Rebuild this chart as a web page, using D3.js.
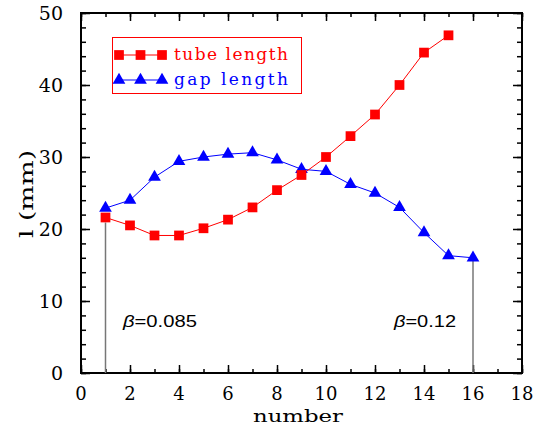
<!DOCTYPE html>
<html>
<head>
<meta charset="utf-8">
<script src="https://cdn.jsdelivr.net/npm/d3@7"></script>
<style>
	body { margin: 0; background: #fff; }
	svg { display: block; }
</style>
</head>
<body>
<svg id="chart" width="539" height="425"></svg>
<script>

// values
var numbers		= [1, 2, 3, 4, 5, 6, 7, 8, 9, 10, 11, 12, 13, 14, 15, 16];
var tubeLength	= [21.6, 20.5, 19.1, 19.1, 20.1, 21.3, 23.0, 25.4, 27.5, 30.0, 32.9, 35.9, 40.0, 44.5, 46.9];
var gapLength	= [22.9, 24.0, 27.2, 29.4, 30.0, 30.4, 30.6, 29.6, 28.3, 28.0, 26.2, 25.0, 23.0, 19.5, 16.3, 16.0];

var xTicks		= [0, 2, 4, 6, 8, 10, 12, 14, 16, 18];
var yTicks		= [0, 10, 20, 30, 40, 50];

var seriesNames	= ["tube length", "gap length"];
var betaMarks	= [
	{ number: 1, top: 20.9, label: "0.085" },
	{ number: 16, top: 16.0, label: "0.12" }
];

var RED		= "#ff0000";
var BLUE	= "#0000ff";
var SERIF	= "'DejaVu Serif', 'Liberation Serif', serif";

var svg = d3.select("#chart");

var plotLeft = 81, plotRight = 522, plotTop = 13, plotBottom = 373;

var x = d3.scaleLinear().domain([0, 18]).range([plotLeft, plotRight]);
var y = d3.scaleLinear().domain([0, 50]).range([plotBottom, plotTop]);

// ticks point inward on all four sides
function ticks(axis, scale, values, len, g) {
	g.call(axis(scale).tickValues(values).tickSize(-len).tickSizeOuter(0).tickFormat(""));
	g.select(".domain").remove();
	g.selectAll("line").attr("stroke", "#000").attr("stroke-width", 1.5);
}

var xMinor = d3.range(0, 19);
var yMinor = d3.range(0, 51, 2);

ticks(d3.axisBottom, x, xMinor, 4, svg.append("g").attr("transform", "translate(0," + plotBottom + ")"));
ticks(d3.axisBottom, x, xTicks, 8, svg.append("g").attr("transform", "translate(0," + plotBottom + ")"));
ticks(d3.axisTop, x, xMinor, 4, svg.append("g").attr("transform", "translate(0," + plotTop + ")"));
ticks(d3.axisTop, x, xTicks, 8, svg.append("g").attr("transform", "translate(0," + plotTop + ")"));
ticks(d3.axisLeft, y, yMinor, 5, svg.append("g").attr("transform", "translate(" + plotLeft + ",0)"));
ticks(d3.axisLeft, y, yTicks, 9, svg.append("g").attr("transform", "translate(" + plotLeft + ",0)"));
ticks(d3.axisRight, y, yMinor, 5, svg.append("g").attr("transform", "translate(" + plotRight + ",0)"));
ticks(d3.axisRight, y, yTicks, 9, svg.append("g").attr("transform", "translate(" + plotRight + ",0)"));

svg.append("rect")
	.attr("x", plotLeft).attr("y", plotTop)
	.attr("width", plotRight - plotLeft).attr("height", plotBottom - plotTop)
	.attr("fill", "none").attr("stroke", "#000").attr("stroke-width", 2);

// tick labels
svg.selectAll(".xlab").data(xTicks).enter().append("text")
	.attr("x", function(d) { return x(d); })
	.attr("y", 400)
	.attr("text-anchor", "middle")
	.attr("font-family", SERIF).attr("font-size", 18)
	.text(function(d) { return d; });

svg.selectAll(".ylab").data(yTicks).enter().append("text")
	.attr("x", 63)
	.attr("y", function(d) { return y(d) + 7; })
	.attr("text-anchor", "end")
	.attr("font-family", SERIF).attr("font-size", 19)
	.text(function(d) { return d; });

svg.append("text")
	.attr("x", 298).attr("y", 422)
	.attr("text-anchor", "middle")
	.attr("font-family", SERIF).attr("font-size", 17)
	.attr("textLength", 90).attr("lengthAdjust", "spacingAndGlyphs")
	.text("number");

svg.append("text")
	.attr("transform", "translate(33,194) rotate(-90)")
	.attr("text-anchor", "middle")
	.attr("font-family", SERIF).attr("font-size", 19)
	.attr("textLength", 88).attr("lengthAdjust", "spacingAndGlyphs")
	.text("l (mm)");

// beta markers
betaMarks.forEach(function(b) {
	svg.append("line")
		.attr("x1", x(b.number)).attr("x2", x(b.number))
		.attr("y1", y(0)).attr("y2", y(b.top))
		.attr("stroke", "#777").attr("stroke-width", 1.5);
});

var betaText = svg.selectAll(".beta").data(betaMarks).enter().append("text")
	.attr("x", function(d, i) { return i == 0 ? 123 : 394; })
	.attr("y", 327)
	.attr("font-family", "'Liberation Sans', Arial, sans-serif").attr("font-size", 17)
	.attr("textLength", function(d, i) { return i == 0 ? 74 : 62; })
	.attr("lengthAdjust", "spacingAndGlyphs");
betaText.append("tspan").attr("font-style", "italic").text("\u03b2");
betaText.append("tspan").text(function(d) { return "=" + d.label; });

// series
var tubePts	= tubeLength.map(function(v, i) { return [numbers[i], v]; });
var gapPts	= gapLength.map(function(v, i) { return [numbers[i], v]; });

var line = d3.line()
	.x(function(d) { return x(d[0]); })
	.y(function(d) { return y(d[1]); });

svg.append("path").datum(gapPts)
	.attr("d", line).attr("fill", "none").attr("stroke", BLUE).attr("stroke-width", 1);
svg.append("path").datum(tubePts)
	.attr("d", line).attr("fill", "none").attr("stroke", RED).attr("stroke-width", 1);

var square		= d3.symbol().type(d3.symbolSquare).size(95);
var triangle	= d3.symbol().type(d3.symbolTriangle).size(70);

svg.selectAll(".gap").data(gapPts).enter().append("path")
	.attr("d", triangle)
	.attr("transform", function(d) { return "translate(" + x(d[0]) + "," + y(d[1]) + ")"; })
	.attr("fill", BLUE);

svg.selectAll(".tube").data(tubePts).enter().append("path")
	.attr("d", square)
	.attr("transform", function(d) { return "translate(" + x(d[0]) + "," + y(d[1]) + ")"; })
	.attr("fill", RED);

// legend
svg.append("rect")
	.attr("x", 112.5).attr("y", 37.5).attr("width", 189).attr("height", 56)
	.attr("fill", "#fff").attr("stroke", RED).attr("stroke-width", 1);

var legendRows = [
	{ name: seriesNames[0], color: RED, sym: square, y: 55 },
	{ name: seriesNames[1], color: BLUE, sym: triangle, y: 80 }
];

legendRows.forEach(function(r) {
	svg.append("line")
		.attr("x1", 119).attr("x2", 162).attr("y1", r.y).attr("y2", r.y)
		.attr("stroke", r.color).attr("stroke-width", 1);
	[119, 140.5, 162].forEach(function(px) {
		svg.append("path").attr("d", r.sym)
			.attr("transform", "translate(" + px + "," + r.y + ")")
			.attr("fill", r.color);
	});
	svg.append("text")
		.attr("x", 174).attr("y", r.y + 5)
		.attr("font-family", SERIF).attr("font-size", 17)
		.attr("textLength", 114).attr("lengthAdjust", "spacing")
		.attr("fill", r.color)
		.text(r.name);
});

</script>
</body>
</html>
